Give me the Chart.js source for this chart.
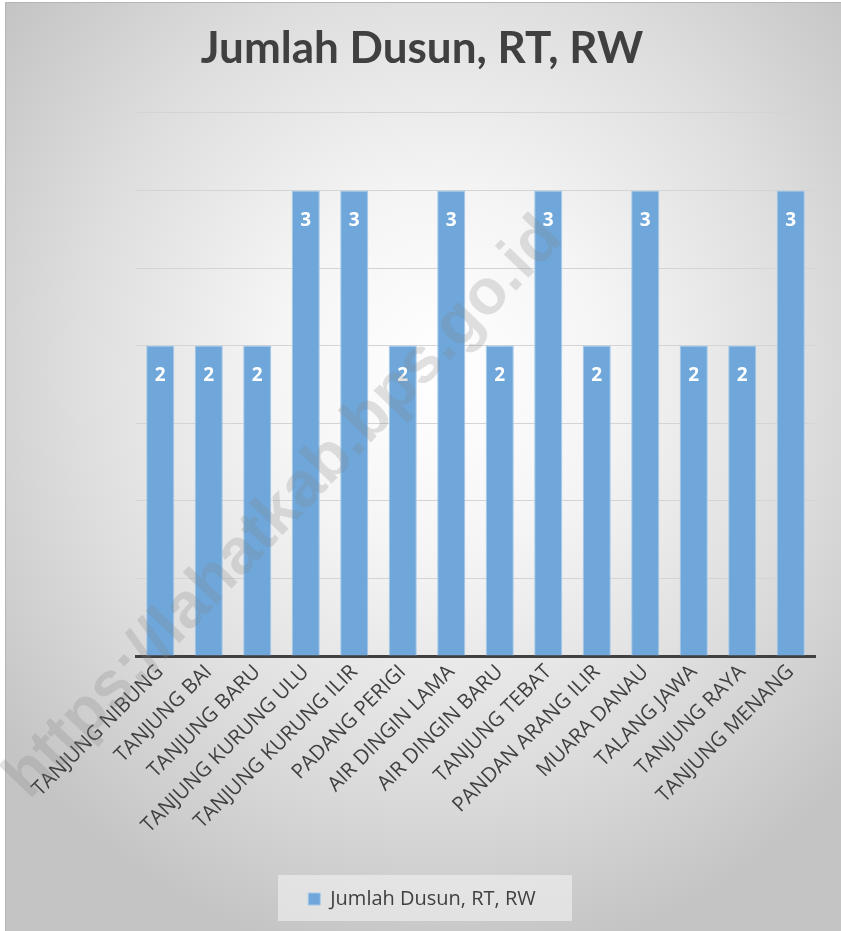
<!DOCTYPE html>
<html>
<head>
<meta charset="utf-8">
<script src="https://cdn.jsdelivr.net/npm/chart.js@4"></script>
<style>
  html, body { margin: 0; padding: 0; background: #ffffff; }
  #bg {
    position: absolute; left: 5px; top: 2px; width: 836px; height: 929px;
    box-sizing: border-box;
    border-top: 1px solid #b5b5b5; border-left: 1px solid #b5b5b5;
    background: radial-gradient(ellipse 66% 64% at 52% 40%, #ffffff 0%, #f5f5f5 30%, #dedede 66%, #c4c4c4 100%);
  }
  #c { position: absolute; left: 0; top: 0; }
</style>
</head>
<body>
<div id="bg"></div>
<canvas id="c" width="841" height="931"></canvas>
<script>
const chartTitle = "Jumlah Dusun, RT, RW";
const seriesName = "Jumlah Dusun, RT, RW";
const categories = [
  "TANJUNG NIBUNG", "TANJUNG BAI", "TANJUNG BARU", "TANJUNG KURUNG ULU",
  "TANJUNG KURUNG ILIR", "PADANG PERIGI", "AIR DINGIN LAMA", "AIR DINGIN BARU",
  "TANJUNG TEBAT", "PANDAN ARANG ILIR", "MUARA DANAU", "TALANG JAWA",
  "TANJUNG RAYA", "TANJUNG MENANG"
];
const values = [2, 2, 2, 3, 3, 2, 3, 2, 3, 2, 3, 2, 2, 3];
const watermarkText = "https://lahatkab.bps.go.id";

const legendBg = {
  id: 'legendBg',
  beforeDraw(chart) {
    const ctx = chart.ctx;
    ctx.save();
    ctx.fillStyle = 'rgba(245,245,245,0.55)';
    ctx.fillRect(278, 875, 294, 46);
    ctx.restore();
  }
};

const overlay = {
  id: 'overlay',
  afterDraw(chart) {
    const ctx = chart.ctx;
    const meta = chart.getDatasetMeta(0);
    ctx.save();
    ctx.fillStyle = '#ffffff';
    ctx.font = 'bold 19px "Open Sans"';
    ctx.textAlign = 'center';
    ctx.textBaseline = 'middle';
    meta.data.forEach((bar, i) => {
      ctx.fillText(String(values[i]), bar.x, bar.y + 30);
    });
    ctx.restore();

    ctx.save();
    ctx.translate(284, 508);
    ctx.rotate(-46.3 * Math.PI / 180);
    ctx.font = 'bold 64px "Liberation Sans"';
    ctx.fillStyle = 'rgba(130,130,130,0.24)';
    ctx.textAlign = 'center';
    ctx.textBaseline = 'middle';
    ctx.fillText(watermarkText, 0, 0);
    ctx.restore();
  }
};

new Chart(document.getElementById('c'), {
  type: 'bar',
  data: {
    labels: categories,
    datasets: [{
      label: seriesName,
      data: values,
      backgroundColor: '#6fa7db',
      borderColor: '#a6c9ea',
      borderWidth: 1,
      barPercentage: 0.58,
      categoryPercentage: 1.0
    }]
  },
  options: {
    responsive: false,
    animation: false,
    layout: { padding: { left: 3, right: 0, top: 0, bottom: 12 } },
    plugins: {
      title: {
        display: true,
        text: chartTitle,
        color: '#404040',
        font: { family: 'Lato', size: 44, weight: 'bold', lineHeight: 1.2 },
        padding: { top: 22, bottom: 38 }
      },
      legend: {
        display: true,
        position: 'bottom',
        labels: {
          color: '#404040',
          font: { family: '"Open Sans"', size: 20 },
          boxWidth: 12,
          boxHeight: 12,
          padding: 10
        }
      },
      tooltip: { enabled: false }
    },
    scales: {
      x: {
        z: 1,
        grid: { display: false, drawTicks: false },
        border: { display: true, color: '#404040', width: 3 },
        ticks: {
          color: '#404040',
          font: { family: '"Open Sans"', size: 20.5 },
          maxRotation: 45,
          minRotation: 45,
          autoSkip: false,
          padding: 4
        },
        afterFit(s) { s.height = 223; }
      },
      y: {
        z: 1,
        min: 0,
        max: 3.5,
        ticks: { display: false, stepSize: 0.5 },
        grid: { color: '#d4d4d4', lineWidth: 1, drawTicks: false },
        border: { display: false },
        afterFit(s) { s.width = 133; }
      },
      yRight: {
        position: 'right',
        display: true,
        ticks: { display: false },
        grid: { display: false, drawTicks: false },
        border: { display: false },
        afterFit(s) { s.width = 26; }
      }
    }
  },
  plugins: [legendBg, overlay]
});
</script>
</body>
</html>
